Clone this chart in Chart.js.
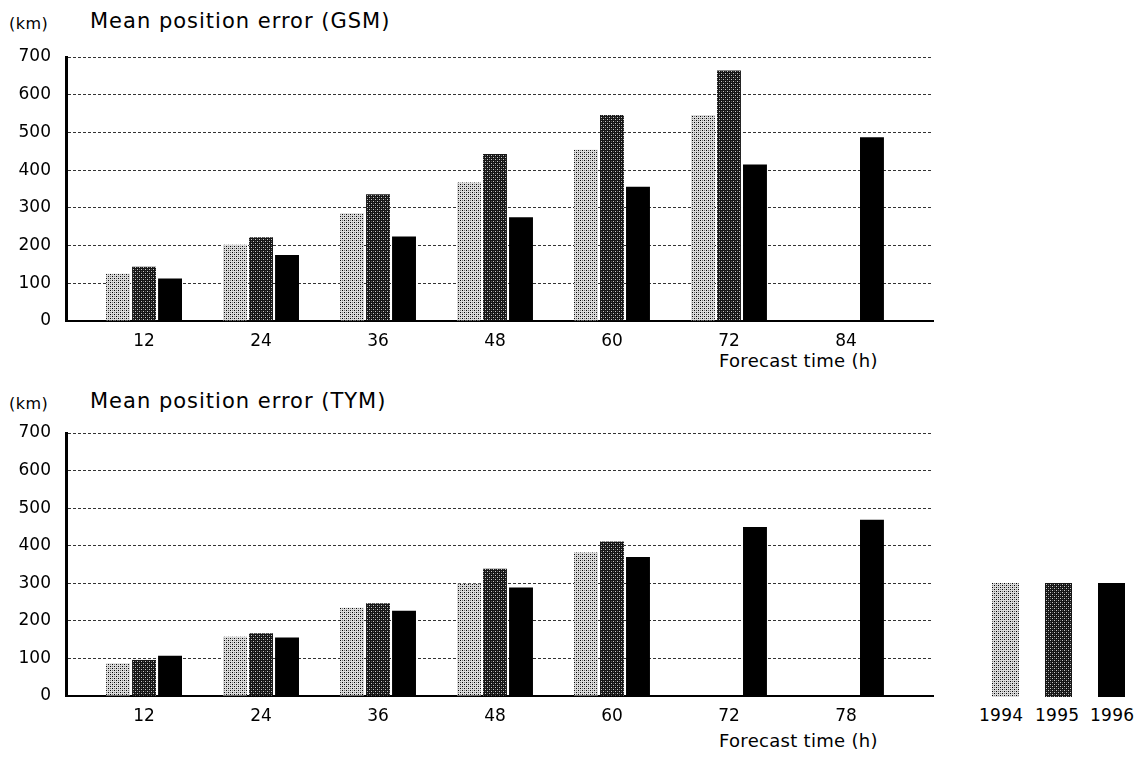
<!DOCTYPE html>
<html>
<head>
<meta charset="utf-8">
<script src="https://cdn.jsdelivr.net/npm/chart.js@4.4.0/dist/chart.umd.min.js"></script>
<style>
body { margin: 0; background: #fff; }
#wrap { position: relative; width: 1143px; height: 758px; overflow: hidden; font-family: 'DejaVu Sans', sans-serif; color: #000; }
canvas { position: absolute; left: 0; }
.t { position: absolute; white-space: nowrap; line-height: 1; }
.sw { position: absolute; width: 27px; height: 114px; image-rendering: pixelated; }
</style>
</head>
<body>
<div id="wrap">
  <div class="t" style="left:9px;top:16px;font-size:16px;letter-spacing:0.5px">(km)</div>
  <div class="t" style="left:90px;top:11px;font-size:21px;letter-spacing:1px">Mean position error (GSM)</div>
  <div class="t" style="left:719px;top:352px;font-size:18px;letter-spacing:0.3px">Forecast time (h)</div>

  <div class="t" style="left:9px;top:396px;font-size:16px;letter-spacing:0.5px">(km)</div>
  <div class="t" style="left:90px;top:391px;font-size:21px;letter-spacing:1px">Mean position error (TYM)</div>
  <div class="t" style="left:719px;top:732px;font-size:18px;letter-spacing:0.3px">Forecast time (h)</div>

  <div id="sw1994" class="sw" style="left:992px;top:583px"></div>
  <div id="sw1995" class="sw" style="left:1045px;top:583px"></div>
  <div id="sw1996" class="sw" style="left:1098px;top:583px;background:#000"></div>
  <div class="t" style="left:979px;top:707px;font-size:17px;letter-spacing:0.3px">1994</div>
  <div class="t" style="left:1035px;top:707px;font-size:17px;letter-spacing:0.3px">1995</div>
  <div class="t" style="left:1090px;top:707px;font-size:17px;letter-spacing:0.3px">1996</div>

  <canvas id="gsm" width="1143" height="375" style="top:0"></canvas>
  <canvas id="tym" width="1143" height="370" style="top:380px"></canvas>
</div>
<script>
// forecast hours on the x axis
const gsmHours = ['12', '24', '36', '48', '60', '72', '84'];
const tymHours = ['12', '24', '36', '48', '60', '72', '78'];

// mean position error (km)
const gsm1994 = [125, 202, 286, 367, 454, 546, null];
const gsm1995 = [144, 222, 336, 443, 546, 664, null];
const gsm1996 = [113, 175, 224, 275, 356, 415, 487];

const tym1994 = [87, 158, 235, 299, 382, null, null];
const tym1995 = [96, 167, 247, 339, 411, null, null];
const tym1996 = [107, 156, 227, 289, 370, 450, 469];

const years = ['1994', '1995', '1996'];

Chart.defaults.font.family = "'DejaVu Sans', sans-serif";
Chart.defaults.color = '#000';

// halftone tiles for the stippled bars
function makeTile(bg, dots) {
    const c = document.createElement('canvas');
    c.width = 4; c.height = 4;
    const g = c.getContext('2d');
    g.fillStyle = bg;
    g.fillRect(0, 0, 4, 4);
    dots.forEach(d => { g.fillStyle = d[2]; g.fillRect(d[0], d[1], 1, 1); });
    return c;
}
const tile1994 = makeTile('#dcdcdc', [[0, 0, '#000'], [2, 2, '#000'], [2, 0, '#777'], [0, 2, '#777']]);
const tile1995 = makeTile('#151515', [[1, 1, '#c8c8c8'], [3, 3, '#c8c8c8'], [3, 1, '#555'], [1, 3, '#555']]);

const tmpCtx = document.createElement('canvas').getContext('2d');
const fills = [
    tmpCtx.createPattern(tile1994, 'repeat'),
    tmpCtx.createPattern(tile1995, 'repeat'),
    '#000'
];
document.getElementById('sw1994').style.background = 'url(' + tile1994.toDataURL() + ')';
document.getElementById('sw1995').style.background = 'url(' + tile1995.toDataURL() + ')';

function points(arr) {
    return arr.map((v, i) => ({x: i, y: v}));
}

function makeChart(id, hours, series, padTop) {
    new Chart(document.getElementById(id), {
        type: 'bar',
        data: {
            datasets: series.map((s, k) => ({
                label: years[k],
                data: points(s),
                backgroundColor: fills[k],
                borderWidth: 0,
                categoryPercentage: 0.667,
                barPercentage: 0.92
            }))
        },
        options: {
            responsive: false,
            animation: false,
            layout: {padding: {top: padTop, right: 210, bottom: 25, left: 0}},
            plugins: {legend: {display: false}, tooltip: {enabled: false}},
            scales: {
                x: {
                    type: 'linear',
                    offset: false,
                    min: -0.667,
                    max: 6.744,
                    afterFit: s => { s.height = 29; },
                    afterBuildTicks: s => { s.ticks = hours.map((h, i) => ({value: i})); },
                    grid: {display: false, offset: false, drawTicks: false},
                    border: {display: true, color: '#000', width: 2},
                    ticks: {
                        autoSkip: false,
                        maxRotation: 0,
                        padding: 10,
                        font: {size: 17},
                        callback: v => hours[v]
                    }
                },
                y: {
                    min: 0,
                    max: 700,
                    afterFit: s => { s.width = 66; },
                    grid: {color: '#333', lineWidth: 1, drawTicks: false},
                    border: {display: true, color: '#000', width: 3, dash: [3, 2]},
                    ticks: {stepSize: 100, padding: 15, font: {size: 17}}
                }
            }
        }
    });
}

makeChart('gsm', gsmHours, [gsm1994, gsm1995, gsm1996], 57);
makeChart('tym', tymHours, [tym1994, tym1995, tym1996], 53);
</script>
</body>
</html>
